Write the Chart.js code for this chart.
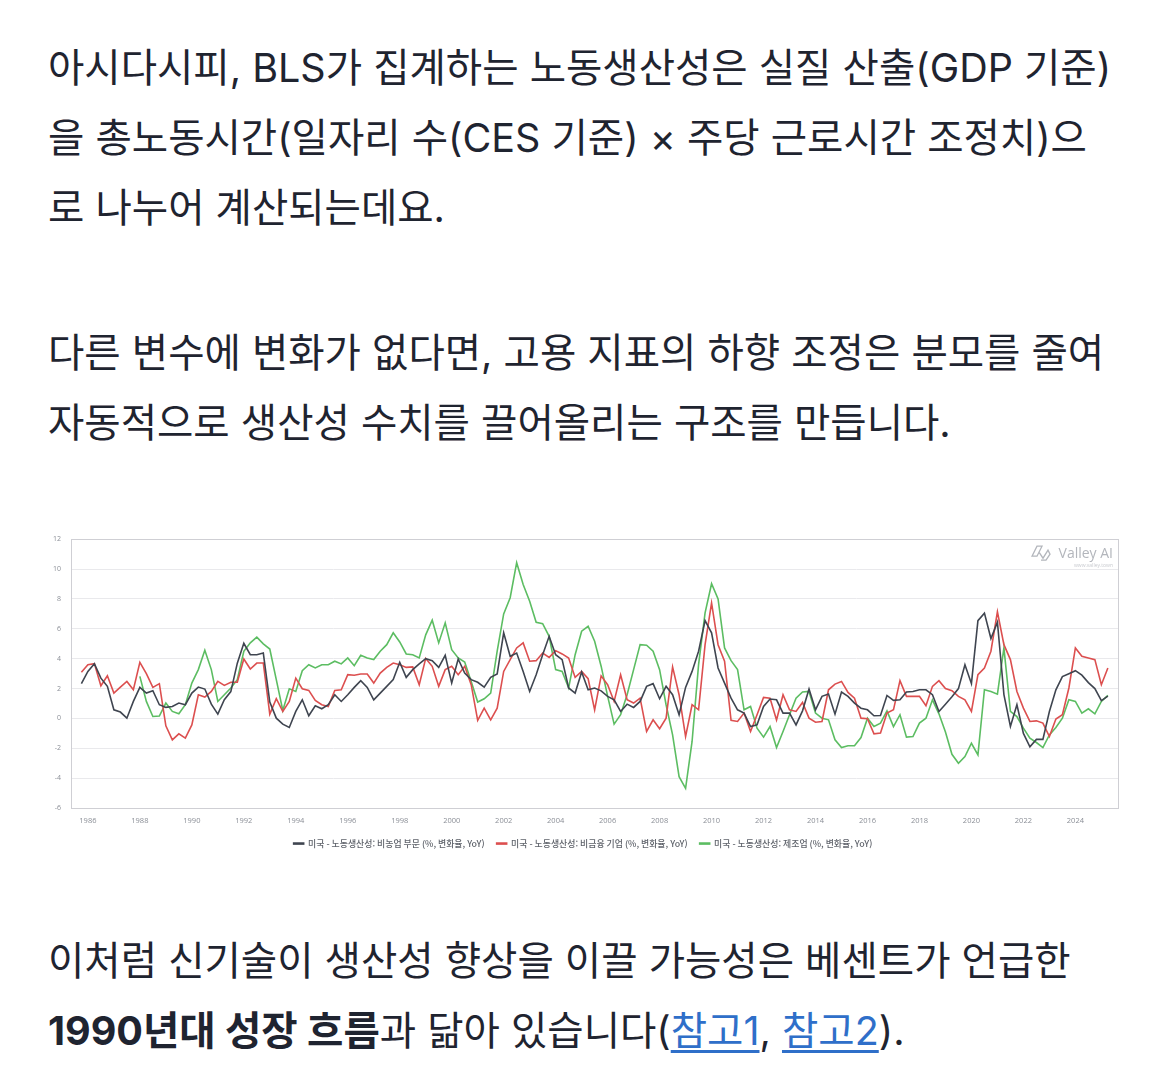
<!DOCTYPE html>
<html lang="ko">
<head>
<meta charset="utf-8">
<script src="https://cdn.jsdelivr.net/npm/chart.js@4.4.1/dist/chart.umd.min.js"></script>
<style>
    html, body {
        margin: 0;
        padding: 0;
        background: #fff;
    }
    body {
        width: 1170px;
        height: 1088px;
        position: relative;
        overflow: hidden;
        font-family: Inter, "Noto Sans CJK KR", sans-serif;
        color: #1f2430;
    }
    .para {
        position: absolute;
        left: 48px;
        font-size: 39.5px;
        line-height: 70px;
        white-space: nowrap;
    }
    .para a {
        color: #2f6fc9;
        text-decoration: underline;
        text-underline-offset: 5px;
    }
    #chart-box {
        position: absolute;
        left: 48px;
        top: 525px;
        width: 1074px;
        height: 335px;
    }
</style>
</head>
<body>

<div class="para" style="top: 33px;">
    아시다시피, BLS가 집계하는 노동생산성은 실질 산출(GDP 기준)<br>
    을 총노동시간(일자리 수(CES 기준) × 주당 근로시간 조정치)으<br>
    로 나누어 계산되는데요.
</div>

<div class="para" style="top: 318px;">
    다른 변수에 변화가 없다면, 고용 지표의 하향 조정은 분모를 줄여<br>
    자동적으로 생산성 수치를 끌어올리는 구조를 만듭니다.
</div>

<div id="chart-box">
    <canvas id="productivityChart"></canvas>
</div>

<div class="para" style="top: 926px;">
    이처럼 신기술이 생산성 향상을 이끌 가능성은 베센트가 언급한<br>
    <b>1990년대 성장 흐름</b>과 닮아 있습니다(<a>참고1</a>, <a>참고2</a>).
</div>

<script>
// quarterly series, first point = 1985 Q4
const startYear = 1985;
const startQuarter = 4;

const yearTicks = [1986, 1988, 1990, 1992, 1994, 1996, 1998, 2000, 2002, 2004,
    2006, 2008, 2010, 2012, 2014, 2016, 2018, 2020, 2022, 2024];
const valueTicks = [-6, -4, -2, 0, 2, 4, 6, 8, 10, 12];

const seriesNames = [
    '미국 - 노동생산성: 비농업 부문 (%, 변화율, YoY)',
    '미국 - 노동생산성: 비금융 기업 (%, 변화율, YoY)',
    '미국 - 노동생산성: 제조업 (%, 변화율, YoY)'
];

const nonfarm = [
    2.33, 3.15, 3.67, 2.7, 2.15, 0.58, 0.43, 0.02, 1.14, 2.08,
    1.7, 1.86, 0.92, 0.74, 0.8, 1.03, 0.92, 1.7, 2.1, 1.97,
    0.96, 0.29, 1.25, 1.8, 3.7, 5.03, 4.27, 4.27, 4.38, 1.1,
    0.02, -0.38, -0.6, 0.47, 1.25, 0.18, 0.85, 0.65, 0.92, 1.59,
    1.14, 1.59, 2.08, 2.53, 2.08, 1.25, 1.7, 2.15, 2.6, 3.76,
    2.75, 3.27, 3.65, 4.0, 3.87, 3.42, 4.23, 2.37, 3.98, 3.04,
    2.6, 2.42, 2.1, 2.75, 2.98, 5.73, 4.16, 4.38, 3.15, 1.81,
    2.93, 4.27, 5.5, 4.27, 3.94, 2.04, 1.7, 3.11, 1.92, 2.04,
    1.85, 1.48, 1.25, 0.47, 0.96, 0.74, 1.14, 2.15, 2.33, 1.32,
    2.15, 1.59, 0.25, 2.08, 3.15, 4.5, 6.55, 5.73, 3.38, 2.37,
    1.36, 0.58, 0.36, -0.54, -0.43, 0.8, 1.3, 1.25, 0.36, 0.36,
    -0.43, 0.51, 1.97, 0.58, 1.48, 1.63, 0.29, 1.77, 1.48, 1.03,
    0.69, 0.58, 0.18, 0.2, 1.54, 1.21, 1.25, 1.77, 1.81, 1.92,
    1.92, 1.59, 0.47, 0.95, 1.45, 2.0, 3.6, 2.33, 6.55, 7.05,
    5.35, 6.45, 1.6, -0.54, 0.92, -1.0, -1.9, -1.4, -1.4, 0.47,
    1.92, 2.8, 3.0, 3.2, 2.9, 2.4, 2.0, 1.2, 1.5
];

const nonfinancial = [
    3.09, 3.6, 3.67, 2.19, 2.86, 1.7, 2.1, 2.48, 1.92, 3.76,
    3.0, 2.08, 2.33, -0.49, -1.43, -1.03, -1.32, -0.43, 1.59, 1.43,
    1.81, 2.48, 2.21, 2.42, 2.42, 3.98, 3.31, 3.71, 3.71, 0.29,
    1.32, 0.47, 1.14, 2.7, 1.99, 1.88, 1.21, 0.92, 0.8, 1.88,
    1.92, 2.93, 2.89, 2.98, 2.98, 2.37, 3.04, 3.42, 3.71, 3.6,
    3.42, 3.45, 2.26, 4.02, 3.49, 2.15, 3.27, 3.49, 2.93, 3.49,
    2.26, -0.13, 0.69, -0.09, 0.69, 3.15, 3.94, 4.72, 5.06, 3.83,
    3.87, 4.38, 4.09, 4.54, 4.32, 4.05, 2.75, 3.15, 2.66, 0.58,
    2.85, 2.26, 1.14, 2.93, 1.25, 1.03, 1.36, -0.87, -0.09, -0.69,
    0.02, 3.45, 1.59, -1.21, 0.92, 0.58, 4.94, 7.74, 4.94, 3.83,
    -0.13, -0.2, 0.36, -0.87, 0.25, 1.41, 1.36, -0.1, 1.59, 0.58,
    0.47, 1.07, 0.02, -0.25, -0.2, 1.92, 2.3, 2.48, 1.74, 1.36,
    0.02, -0.02, -1.03, -0.98, 0.36, 0.58, 2.53, 1.48, 1.48, 1.48,
    0.85, 2.15, 2.53, 2.0, 1.86, 1.48, 1.25, 0.47, 2.93, 3.38,
    4.5, 7.14, 4.94, 3.94, 1.81, 0.69, -0.2, -0.16, -0.31, -1.21,
    -0.04, 0.25, 2.04, 4.72, 4.16, 4.05, 3.94, 2.26, 3.38
];

// manufacturing starts 1988 Q1
const manufacturing = [
    null, null, null, null, null, null, null, null, null, 2.82,
    1.14, 0.13, 0.16, 1.03, 0.47, 0.31, 0.92, 2.37, 3.27, 4.56,
    3.27, 1.14, 1.59, 2.04, 2.6, 4.5, 5.06, 5.44, 4.99, 4.65,
    2.6, 0.54, 1.99, 1.81, 3.2, 3.6, 3.38, 3.6, 3.6, 3.83,
    3.65, 4.05, 3.53, 4.23, 4.05, 3.94, 4.5, 4.94, 5.73, 5.12,
    4.32, 4.27, 4.05, 5.6, 6.58, 5.06, 6.4, 4.6, 4.05, 3.78,
    2.48, 1.1, 1.32, 1.7, 4.5, 7.0, 8.08, 10.43, 8.97, 7.85,
    6.44, 6.35, 5.5, 3.27, 3.15, 2.04, 4.27, 5.84, 6.17, 5.17,
    3.5, 1.5, -0.38, 0.25, 1.59, 3.27, 4.94, 4.9, 4.5, 3.27,
    0.92, -1.1, -3.9, -4.68, -1.54, 3.6, 7.07, 9.02, 8.0, 4.72,
    3.87, 3.27, 0.58, 0.8, -0.65, -1.25, -0.54, -1.95, -0.87, 0.25,
    1.36, 1.77, 1.81, 0.36, 0.02, -0.09, -1.43, -1.95, -1.83, -1.83,
    -1.28, 0.02, -0.54, -0.31, 0.51, -0.54, 0.25, -1.25, -1.21, -0.31,
    0.02, 1.25, 0.31, -0.9, -2.4, -3.0, -2.55, -1.66, -2.44, 1.92,
    1.81, 1.63, 4.72, 0.47, 0.13, -0.65, -1.32, -1.61, -1.95, -1.1,
    -0.6, 0.02, 1.25, 1.14, 0.36, 0.65, 0.31, 1.14, 1.54
];

const seriesColors = ['#3f4550', '#dc4f4f', '#5cbd62'];

function toPoints(values) {
    return values.map((v, i) => ({
        x: startYear + (startQuarter - 1) / 4 + i * 0.25,
        y: v
    }));
}

const frameAndMark = {
    id: 'frameAndMark',
    beforeDatasetsDraw(chart) {
        const {ctx, chartArea: a} = chart;
        ctx.save();
        ctx.strokeStyle = '#cfcfd4';
        ctx.lineWidth = 1;
        ctx.strokeRect(Math.round(a.left) + 0.5, Math.round(a.top) + 0.5,
            Math.round(a.right - a.left), Math.round(a.bottom - a.top));

        // watermark
        const rx = a.right - 5;
        ctx.fillStyle = '#b3b6bc';
        ctx.textAlign = 'right';
        ctx.textBaseline = 'alphabetic';
        ctx.font = '14px "Open Sans", sans-serif';
        ctx.fillText('Valley AI', rx, a.top + 19);
        ctx.font = '5px "Open Sans", sans-serif';
        ctx.fillStyle = '#c8cacf';
        ctx.fillText('www.valley.town', rx, a.top + 28);

        const lx = rx - 81, ly = a.top + 7;
        ctx.strokeStyle = '#b3b6bc';
        ctx.lineWidth = 1.3;
        ctx.beginPath();
        ctx.moveTo(lx, ly + 10);
        ctx.lineTo(lx + 5, ly);
        ctx.lineTo(lx + 10, ly);
        ctx.lineTo(lx + 5, ly + 10);
        ctx.closePath();
        ctx.moveTo(lx + 7, ly + 6);
        ctx.lineTo(lx + 11, ly + 12);
        ctx.lineTo(lx + 16, ly + 4);
        ctx.lineTo(lx + 18, ly + 8);
        ctx.lineTo(lx + 14, ly + 14);
        ctx.lineTo(lx + 9, ly + 14);
        ctx.stroke();
        ctx.restore();
    }
};

const ctx = document.getElementById('productivityChart').getContext('2d');

const chart = new Chart(ctx, {
    type: 'line',
    data: {
        datasets: [nonfarm, nonfinancial, manufacturing].map((values, i) => ({
            label: seriesNames[i],
            data: toPoints(values),
            borderColor: seriesColors[i],
            backgroundColor: seriesColors[i],
            borderWidth: 1.6,
            pointRadius: 0,
            tension: 0,
            spanGaps: false
        }))
    },
    options: {
        responsive: true,
        maintainAspectRatio: false,
        animation: false,
        layout: {
            padding: {top: 0, right: 4, left: 0, bottom: 2}
        },
        plugins: {
            legend: {
                position: 'bottom',
                labels: {
                    boxWidth: 10,
                    boxHeight: 1,
                    padding: 12,
                    color: '#5f636b',
                    font: {family: '"Noto Sans CJK KR", sans-serif', size: 8.9, weight: '500'}
                }
            },
            tooltip: {enabled: false}
        },
        scales: {
            x: {
                type: 'linear',
                min: 1985.35,
                max: 2025.64,
                afterBuildTicks: axis => {
                    axis.ticks = yearTicks.map(v => ({value: v}));
                },
                afterFit: axis => {
                    axis.height = 19;
                },
                grid: {display: false, drawTicks: false},
                border: {color: '#cfcfd4'},
                ticks: {
                    autoSkip: false,
                    maxRotation: 0,
                    padding: 8,
                    color: '#8a8e96',
                    font: {family: '"Open Sans", sans-serif', size: 7.5},
                    callback: v => String(v)
                }
            },
            y: {
                min: -6,
                max: 12,
                afterBuildTicks: axis => {
                    axis.ticks = valueTicks.map(v => ({value: v}));
                },
                afterFit: axis => {
                    axis.width = 23;
                },
                grid: {color: '#e9e9ec', drawTicks: false},
                border: {color: '#cfcfd4'},
                ticks: {
                    padding: 10,
                    color: '#8a8e96',
                    font: {family: '"Open Sans", sans-serif', size: 7}
                }
            }
        }
    },
    plugins: [frameAndMark]
});
</script>
</body>
</html>
